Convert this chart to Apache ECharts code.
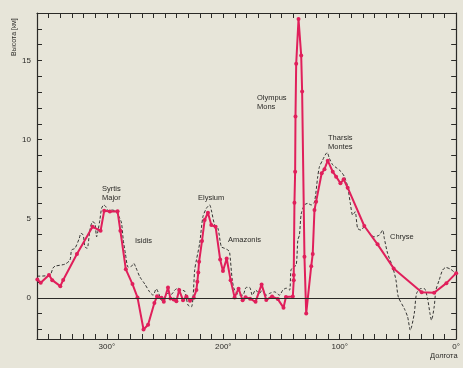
<!DOCTYPE html>
<html>
<head>
<meta charset="utf-8">
<script src="https://cdn.jsdelivr.net/npm/echarts@6/dist/echarts.min.js"></script>
<style>
  html, body { margin: 0; padding: 0; background: #e7e5d9; }
  #chart { width: 463px; height: 368px; }
</style>
</head>
<body>
<div id="chart"></div>
<script>
// Longitude (degrees W) and height (km) of the measured profile, with markers
const radarLon = [359.7,356.8,349.7,346.9,340.0,337.5,325.7,312.3,305.4,302.3,297.4,290.8,288.4,283.7,278.0,273.7,268.5,264.6,259.2,256.9,253.1,251.1,247.5,245.4,242.6,240.3,237.9,234.6,231.7,228.6,225.4,223.1,222.3,221.5,220.8,218.3,216.0,213.2,210.3,206.6,202.7,200.3,197.1,193.7,190.3,186.9,183.4,180.9,177.0,172.3,167.1,163.1,158.1,153.2,148.3,146.2,140.3,139.5,139.5,138.9,138.3,138.0,137.4,135.4,133.1,132.3,130.3,128.8,124.5,123.2,121.7,120.3,115.5,113.1,110.3,106.0,103.1,99.4,96.6,93.2,78.9,67.5,53.7,29.6,18.9,8.4,0];
const radarHeight = [1.16,0.95,1.44,1.12,0.74,1.13,2.77,4.49,4.24,5.5,5.45,5.47,4.24,1.8,0.87,0.03,-2.0,-1.7,-0.32,0.1,0.0,-0.25,0.66,-0.04,-0.1,-0.21,0.49,-0.15,0.08,-0.18,0.01,0.49,1.01,1.6,2.28,3.6,4.92,5.38,4.6,4.49,2.43,1.69,2.49,1.12,0.03,0.58,-0.15,0.04,-0.05,-0.25,0.85,-0.13,0.09,-0.08,-0.62,0.06,0.08,1.12,1.44,6.01,7.97,11.46,14.79,17.62,15.32,13.04,2.59,-0.99,2.0,2.77,5.55,6.08,7.87,8.13,8.67,7.97,7.66,7.24,7.49,6.96,4.54,3.38,1.86,0.35,0.32,0.93,1.56];

// Continuous reference profile (dashed)
const profileLon = [359.7,348.9,346.3,344.6,336.0,331.7,330.3,327.4,323.7,322.3,320.3,318.9,316.9,314.6,312.3,310.3,308.8,307.5,306.0,304.5,302.6,300.9,298.9,296.0,293.1,291.2,288.9,287.4,285.9,284.1,281.7,278.8,276.9,275.1,271.7,267.4,263.1,260.3,257.6,255.2,253.1,250.3,247.4,244.5,241.7,238.9,236.0,233.1,230.3,227.4,226.0,224.6,223.1,220.3,217.5,214.5,211.7,210.3,207.4,204.6,201.7,198.9,196.0,194.6,192.3,190.3,186.0,183.2,180.3,177.4,175.1,172.3,168.9,166.3,163.1,160.3,156.0,151.7,148.9,146.0,143.1,141.9,140.3,137.4,136.0,134.6,133.1,130.3,127.5,124.5,121.7,118.9,117.4,114.6,112.5,110.8,108.9,106.0,102.3,98.8,96.0,93.2,90.9,88.9,86.8,84.6,81.7,78.9,74.6,70.3,66.0,63.1,61.7,58.9,54.6,51.7,49.7,44.6,41.7,39.4,36.0,34.0,30.3,27.4,24.6,22.5,21.2,18.9,17.4,14.6,11.7,8.9,4.6,0.3];
const profileHeight = [1.37,1.44,1.88,2.0,2.13,2.39,3.02,3.13,3.76,4.08,3.97,3.23,3.13,4.28,4.81,4.71,3.86,4.28,4.92,5.66,5.87,5.76,5.51,5.55,5.51,5.34,5.03,4.73,3.65,2.81,1.94,2.0,2.18,1.92,1.33,0.87,0.36,0.17,0.57,0.23,-0.15,0.06,0.3,0.23,0.49,0.61,0.49,0.42,-0.46,-0.57,0.04,1.75,2.39,3.44,5.13,5.66,5.87,5.55,4.6,4.39,3.23,3.13,3.02,2.89,1.12,0.49,0.17,0.17,0.66,0.66,0.17,0.49,0.28,0.55,0.17,0.28,0.38,0.17,0.49,0.61,0.49,1.75,1.92,2.07,3.65,3.97,5.3,5.87,5.97,5.87,6.06,7.66,8.29,8.72,9.03,9.18,8.82,8.4,8.19,7.97,7.66,7.03,5.97,5.23,5.44,4.39,4.28,4.49,4.08,3.86,3.97,4.28,3.76,2.81,1.96,1.12,0.06,-0.67,-1.2,-2.04,-0.99,0.28,0.59,0.59,-0.04,-0.99,-1.41,-0.57,0.49,1.12,1.75,1.92,1.8,1.54];

// Axis ticks and labels
const heightTicks = [-2,-1,0,1,2,3,4,5,6,7,8,9,10,11,12,13,14,15,16,17];
const heightLabels = [0,5,10,15];
const lonLabels = [0,100,200,300];

// Region names
const regionNames = ['Syrtis\nMajor','Isidis','Elysium','Amazonis','Olympus\nMons','Tharsis\nMontes','Chryse'];

const ink = '#2b2a27';
const rose = '#e01f5b';
const font = '"Liberation Sans", Arial, sans-serif';

const pair = (xs, ys) => xs.map((x, i) => [x, ys[i]]);

const chart = echarts.init(document.getElementById('chart'), null, { renderer: 'canvas' });

const lonAxisBase = {
  type: 'value', inverse: true, min: 0, max: 360, interval: 10,
  axisLine: { onZero: false, lineStyle: { color: ink, width: 1.2 } },
  axisTick: { inside: true, length: 5, lineStyle: { color: ink, width: 1 } },
  splitLine: { show: false }
};
const heightAxisBase = {
  type: 'value', min: -2.6, max: 18,
  axisLine: { show: true, onZero: false, lineStyle: { color: ink, width: 1.2 } },
  axisTick: { inside: true, length: 5, customValues: heightTicks, lineStyle: { color: ink, width: 1 } },
  splitLine: { show: false }
};

const textStyle = (t, x, y) => ({
  type: 'text', left: x, top: y, silent: true,
  style: { text: t, font: '7.5px ' + font, fill: ink, lineHeight: 9 }
});

chart.setOption({
  backgroundColor: '#e7e5d9',
  animation: false,
  grid: { left: 37, right: 6, top: 13, bottom: 29 },
  xAxis: [
    Object.assign({}, lonAxisBase, {
      position: 'bottom',
      axisLabel: {
        customValues: lonLabels, color: ink, fontSize: 8, fontFamily: font, margin: 4,
        formatter: v => v + '°'
      }
    }),
    Object.assign({}, lonAxisBase, { position: 'top', axisLabel: { show: false } })
  ],
  yAxis: [
    Object.assign({}, heightAxisBase, {
      position: 'left',
      axisLabel: { customValues: heightLabels, color: ink, fontSize: 8, fontFamily: font, margin: 6 }
    }),
    Object.assign({}, heightAxisBase, { position: 'right', axisLabel: { show: false } })
  ],
  series: [
    {
      type: 'line', name: 'profile', z: 2,
      data: pair(profileLon, profileHeight),
      showSymbol: false, smooth: 0.25,
      lineStyle: { color: '#1f1f1f', width: 0.9, type: [3, 2] },
      markLine: {
        silent: true, symbol: 'none', label: { show: false },
        lineStyle: { color: ink, width: 1, type: 'solid' },
        data: [{ yAxis: 0 }]
      }
    },
    {
      type: 'line', name: 'radar', z: 3,
      data: pair(radarLon, radarHeight),
      symbol: 'circle', symbolSize: 4,
      itemStyle: { color: rose },
      lineStyle: { color: rose, width: 2 }
    }
  ],
  graphic: [
    textStyle(regionNames[0], 102, 184),
    textStyle(regionNames[1], 135, 236),
    textStyle(regionNames[2], 198, 193),
    textStyle(regionNames[3], 228, 235),
    textStyle(regionNames[4], 257, 93),
    textStyle(regionNames[5], 328, 133),
    textStyle(regionNames[6], 390, 232),
    {
      type: 'text', left: 430, top: 352, silent: true,
      style: { text: 'Долгота', font: '7.5px ' + font, fill: ink }
    },
    {
      type: 'text', x: 18, y: 56, rotation: Math.PI / 2, silent: true,
      style: { text: 'Высота [км]', font: '7px ' + font, fill: ink, textAlign: 'left', textVerticalAlign: 'bottom' }
    }
  ]
});
</script>
</body>
</html>
